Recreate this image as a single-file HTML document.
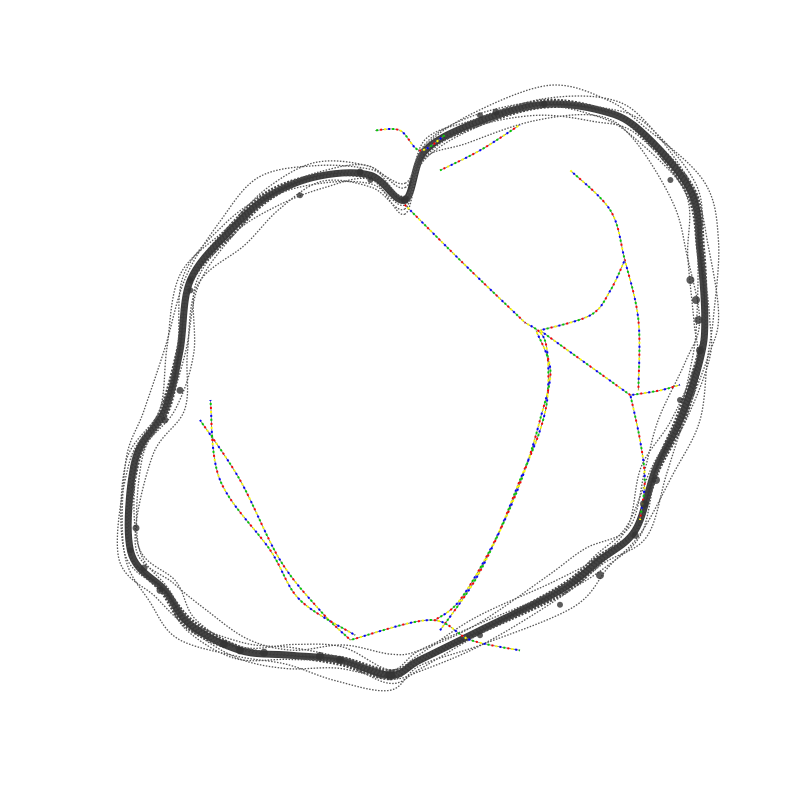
<!DOCTYPE html>
<html>
<head>
<meta charset="utf-8">
<style>
  html, body { margin: 0; padding: 0; background: #ffffff; }
  svg { display: block; }
</style>
</head>
<body>
<svg id="chart" width="800" height="800" viewBox="0 0 800 800" xmlns="http://www.w3.org/2000/svg">
  <rect x="0" y="0" width="800" height="800" fill="#ffffff"></rect>
  <g id="ring"></g>
  <g id="inner"></g>
  <g id="nodes"></g>
</svg>
<script>
// Graph layout node positions (layout units 0..100)
const ringX = [50.6, 53.0, 58.8, 67.5, 75.0, 80.0, 86.3, 87.5, 88.1, 87.5, 85.0, 81.9, 79.4, 75.0, 70.0, 60.0, 52.5, 48.8, 42.5, 36.3, 30.0, 23.8, 20.6, 16.3, 16.9, 20.6, 22.5, 23.8, 28.8, 33.8, 40.0, 46.3];
const ringY = [25.0, 19.0, 15.6, 13.1, 13.8, 16.3, 23.8, 31.3, 40.0, 45.0, 52.5, 58.8, 66.3, 70.0, 73.8, 78.8, 82.5, 84.4, 82.5, 81.9, 81.3, 78.1, 73.8, 68.8, 57.5, 51.3, 43.8, 35.0, 28.8, 24.4, 22.0, 21.9];
const ringStrands = [0, 0.5, -0.5, 1, -1, 2, -2, 3, -3, 4.5, -4.5];

const innerPaths = [
  { x: [50.6, 58.0, 65.6], y: [25.6, 33.0, 40.3] },
  { x: [65.6, 68.1, 68.5, 67.5, 65.0, 61.9, 57.5, 54.4], y: [40.3, 42.5, 48.8, 53.8, 60.0, 67.5, 75.0, 77.5] },
  { x: [67.0, 68.8, 67.5, 65.6, 63.1, 59.4, 55.0], y: [41.3, 46.3, 52.5, 58.8, 65.0, 72.5, 78.8] },
  { x: [67.5, 78.8], y: [41.3, 49.4] },
  { x: [71.3, 76.3, 78.1, 79.8, 79.8], y: [21.3, 26.3, 32.5, 40.0, 48.8] },
  { x: [67.5, 73.8, 76.3, 78.1], y: [41.3, 39.4, 36.3, 32.5] },
  { x: [78.8, 82.5, 85.0], y: [49.4, 48.8, 48.1] },
  { x: [78.8, 80.0, 80.6, 80.0], y: [49.4, 55.0, 60.0, 65.0] },
  { x: [25.0, 30.0, 35.0, 40.0, 43.8], y: [52.5, 60.0, 70.0, 76.3, 80.0] },
  { x: [26.3, 27.5, 33.8, 37.5, 44.4], y: [50.0, 60.0, 68.8, 75.0, 79.4] },
  { x: [43.8, 53.8, 58.8, 65.0], y: [80.0, 77.5, 80.0, 81.3] },
  { x: [46.9, 50.0, 52.5, 55.6], y: [16.3, 16.3, 18.8, 16.9] },
  { x: [55.0, 60.0, 65.0], y: [21.3, 18.8, 15.6] }
];
const innerColors = ["#ff0000", "#00cc00", "#0000ff", "#ffff00"];

const nodeX = [20.6, 23.8, 37.5, 46.3, 50.6, 60.0, 83.8, 86.3, 87.5, 85.0, 79.4, 75.0, 70.0, 60.0, 48.8, 42.5, 30.0, 20.0, 16.3, 22.5, 23.8, 87.0, 87.3, 82.0, 80.5, 28.0, 33.0, 40.0, 18.0, 17.0, 45.0, 68.0, 62.0];
const nodeY = [52.5, 36.3, 24.4, 22.5, 25.0, 14.4, 22.5, 35.0, 43.8, 50.0, 66.9, 71.9, 75.6, 79.4, 84.4, 82.5, 81.3, 73.8, 68.8, 48.8, 35.0, 37.5, 40.0, 60.0, 63.0, 80.5, 81.6, 82.0, 71.0, 66.0, 21.5, 13.0, 14.0];
const nodeR = [3.5, 3, 3, 3, 4, 3, 3, 4, 4, 3, 3.5, 4, 3, 3, 5, 4, 4, 3.5, 3, 3.5, 3, 4, 4, 4, 4, 4, 4, 4, 3.5, 3.5, 3.5, 3.5, 3.5];

const sx = v => v * 8;
const sy = v => v * 8;
const NS = "http://www.w3.org/2000/svg";

function catmull(pts, closed) {
  const n = pts.length;
  const get = i => closed ? pts[(i + n) % n] : pts[Math.max(0, Math.min(n - 1, i))];
  let d = "M" + pts[0][0].toFixed(1) + "," + pts[0][1].toFixed(1);
  const segs = closed ? n : n - 1;
  for (let i = 0; i < segs; i++) {
    const p0 = get(i - 1), p1 = get(i), p2 = get(i + 1), p3 = get(i + 2);
    const c1 = [p1[0] + (p2[0] - p0[0]) / 6, p1[1] + (p2[1] - p0[1]) / 6];
    const c2 = [p2[0] - (p3[0] - p1[0]) / 6, p2[1] - (p3[1] - p1[1]) / 6];
    d += "C" + c1[0].toFixed(1) + "," + c1[1].toFixed(1) + " " + c2[0].toFixed(1) + "," + c2[1].toFixed(1) + " " + p2[0].toFixed(1) + "," + p2[1].toFixed(1);
  }
  return closed ? d + "Z" : d;
}

const cx = 400, cy = 400;
const ring = document.getElementById("ring");
ringStrands.forEach((off, k) => {
  const pts = ringX.map((x, i) => {
    const px = sx(x), py = sy(ringY[i]);
    const dx = px - cx, dy = py - cy, L = Math.hypot(dx, dy);
    const wig = off * 3 * (1 + 0.6 * Math.sin(i * 1.7 + k));
    return [px + dx / L * wig, py + dy / L * wig];
  });
  const p = document.createElementNS(NS, "path");
  p.setAttribute("d", catmull(pts, true));
  p.setAttribute("fill", "none");
  if (off === 0) {
    p.setAttribute("stroke", "#222222");
    p.setAttribute("stroke-width", "7");
    p.setAttribute("stroke-opacity", "0.9");
  } else if (Math.abs(off) < 1.5) {
    p.setAttribute("stroke", "#444444");
    p.setAttribute("stroke-width", "2.5");
    p.setAttribute("stroke-dasharray", "2 1.5");
  } else {
    p.setAttribute("stroke", "#555555");
    p.setAttribute("stroke-width", "1.3");
    p.setAttribute("stroke-dasharray", "1.5 1.5");
  }
  
  
  ring.appendChild(p);
});

const inner = document.getElementById("inner");
innerPaths.forEach((ip, k) => {
  const pts = ip.x.map((x, i) => [sx(x), sy(ip.y[i])]);
  const d = catmull(pts, false);
  const base = document.createElementNS(NS, "path");
  base.setAttribute("d", d);
  base.setAttribute("fill", "none");
  base.setAttribute("stroke", "#777777");
  base.setAttribute("stroke-width", "0.9");
  
  
  inner.appendChild(base);
  innerColors.forEach((c, j) => {
    const p = document.createElementNS(NS, "path");
    p.setAttribute("d", d);
    p.setAttribute("fill", "none");
    p.setAttribute("stroke", c);
    p.setAttribute("stroke-width", "2");
    p.setAttribute("stroke-dasharray", "2 14");
    p.setAttribute("stroke-dashoffset", String(j * 4 + k));
    
    
    inner.appendChild(p);
  });
});

const nodes = document.getElementById("nodes");
nodeX.forEach((x, i) => {
  const c = document.createElementNS(NS, "circle");
  c.setAttribute("cx", sx(x));
  c.setAttribute("cy", sy(nodeY[i]));
  c.setAttribute("r", nodeR[i]);
  c.setAttribute("fill", "#333333");
  c.setAttribute("fill-opacity", "0.8");
  
  
  nodes.appendChild(c);
});
</script>
</body>
</html>
